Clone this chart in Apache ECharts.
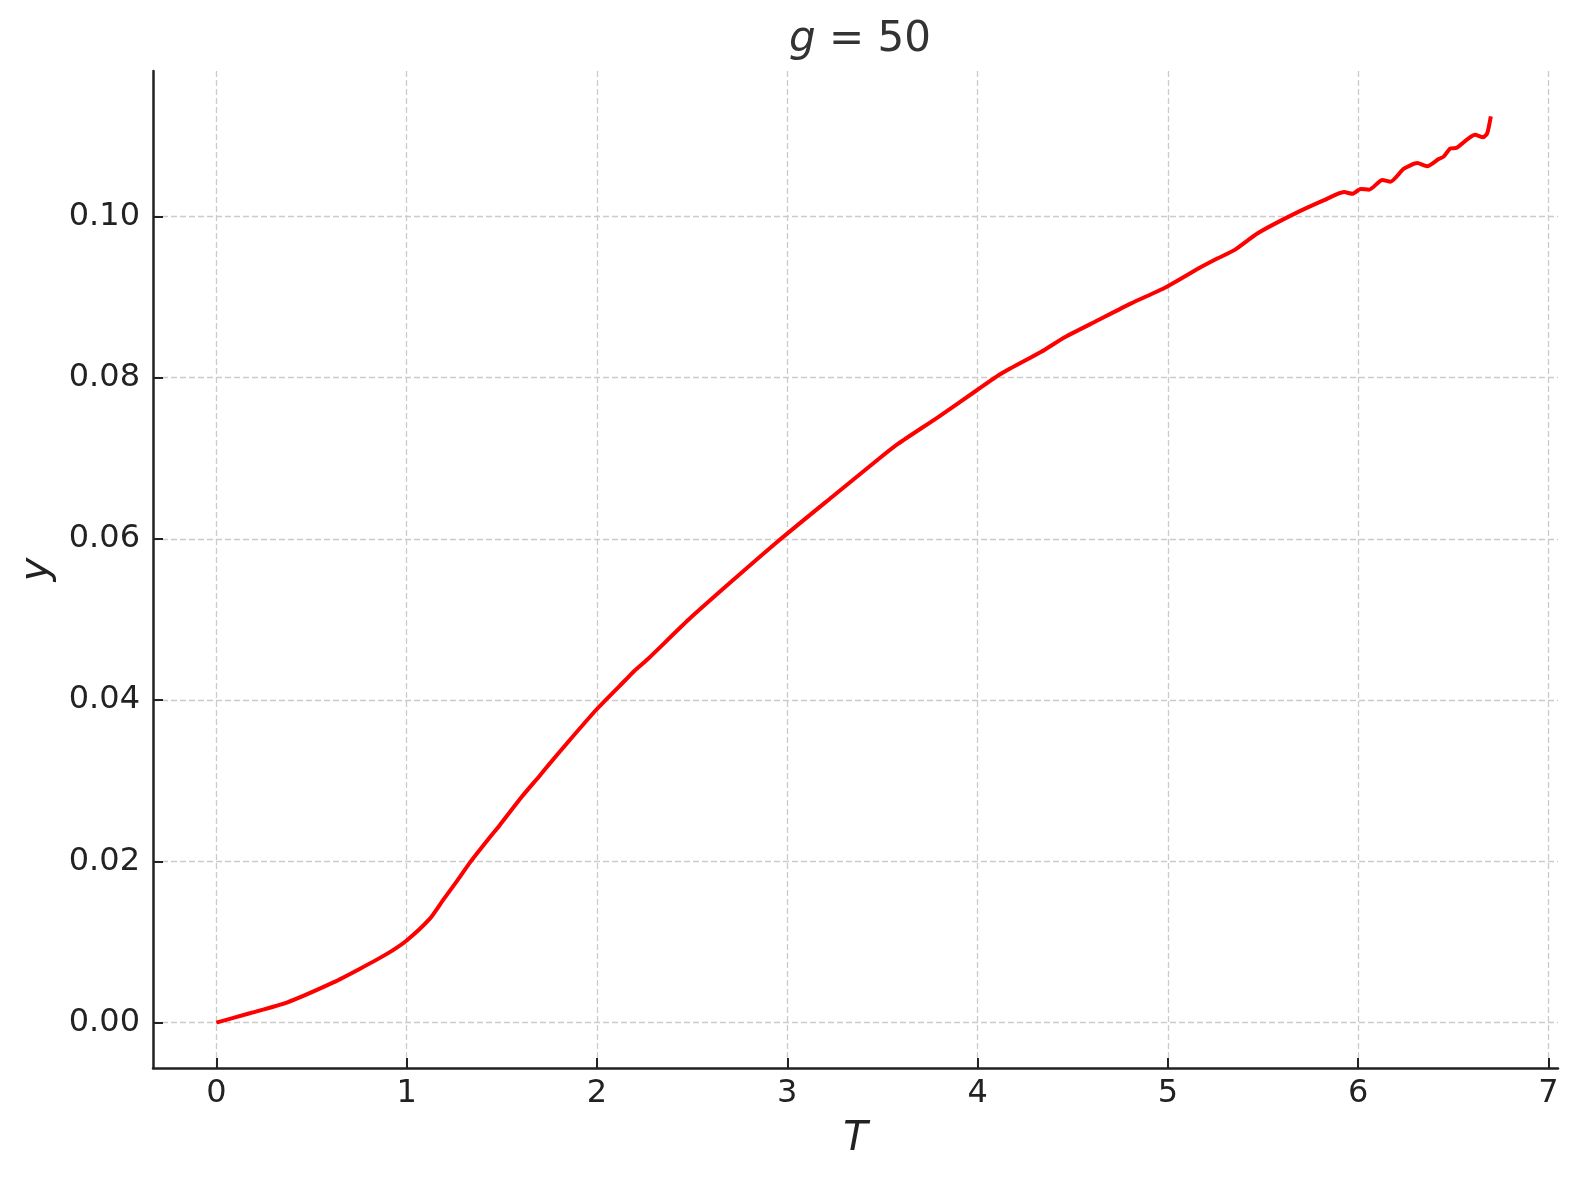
<!DOCTYPE html>
<html>
<head>
<meta charset="utf-8">
<script src="https://cdn.jsdelivr.net/npm/echarts@6/dist/echarts.min.js"></script>
<style>
  html, body { margin: 0; padding: 0; background: #fff; }
  #chart { width: 1578px; height: 1180px; }
</style>
</head>
<body>
<div id="chart"></div>
<script>
const tValues = [0, 0.18, 0.37, 0.615, 0.755, 0.894, 1.0, 1.122, 1.191, 1.262, 1.337, 1.434, 1.486,
  1.608, 1.698, 1.747, 1.855, 2.0, 2.15, 2.2, 2.263, 2.482, 2.711, 2.956, 3.235, 3.48, 3.583,
  3.793, 3.994, 4.125, 4.335, 4.458, 4.632, 4.807, 4.99, 5.174, 5.262, 5.349, 5.472, 5.664, 5.821,
  5.926, 5.97, 6.013, 6.057, 6.127, 6.17, 6.24, 6.31, 6.362, 6.423, 6.449, 6.483, 6.518, 6.614,
  6.657, 6.678, 6.697];
const yValues = [0, 0.0012, 0.0025, 0.0050, 0.0067, 0.0085, 0.0102, 0.0129, 0.0152, 0.0175, 0.0200,
  0.0229, 0.0244, 0.0281, 0.0306, 0.0320, 0.0350, 0.0389, 0.0425, 0.0437, 0.0450, 0.0500, 0.0548,
  0.0598, 0.0652, 0.0699, 0.0718, 0.0751, 0.0784, 0.0805, 0.0832, 0.0850, 0.0871, 0.0892, 0.0912,
  0.0937, 0.0948, 0.0958, 0.0979, 0.1003, 0.1020, 0.1030, 0.1028, 0.1034, 0.1033, 0.1045, 0.1043,
  0.1059, 0.1066, 0.1062, 0.1071, 0.1074, 0.1084, 0.1085, 0.1101, 0.1098, 0.1103, 0.1124];

const xTicks = [0, 1, 2, 3, 4, 5, 6, 7];
const yTicks = [0, 0.02, 0.04, 0.06, 0.08, 0.10];

const chart = echarts.init(document.getElementById('chart'));

const axisColor = '#222222';
const font = 'DejaVu Sans';

const splitLine = {
    show: true,
    lineStyle: { color: '#cbcbcb', width: 1.3, type: [6, 3] }
};

const option = {
    backgroundColor: '#ffffff',
    animation: false,
    title: {
        text: '{i|g}{n| = 50}',
        left: 855,
        textAlign: 'center',
        top: 14,
        textStyle: {
            rich: {
                i: { fontFamily: font, fontStyle: 'italic', fontWeight: 'normal', fontSize: 42, color: '#333333' },
                n: { fontFamily: font, fontWeight: 'normal', fontSize: 42, color: '#333333' }
            }
        }
    },
    grid: {
        left: 153,
        right: 20,
        top: 71,
        bottom: 112,
        outerBoundsMode: 'none'
    },
    xAxis: {
        type: 'value',
        min: -0.333,
        max: 7.05,
        name: 'T',
        nameLocation: 'middle',
        nameGap: 52,
        nameTextStyle: { fontFamily: font, fontStyle: 'italic', fontSize: 40, color: axisColor },
        axisLine: { onZero: false, lineStyle: { color: axisColor, width: 2.5 } },
        axisTick: { inside: true, length: 10, customValues: xTicks, lineStyle: { color: axisColor, width: 2 } },
        axisLabel: {
            customValues: xTicks,
            margin: 10,
            fontFamily: font,
            fontSize: 32,
            color: axisColor
        },
        splitLine: splitLine
    },
    yAxis: {
        type: 'value',
        min: -0.00562,
        max: 0.11802,
        name: 'y',
        nameLocation: 'middle',
        nameGap: 93,
        nameRotate: 90,
        nameTextStyle: { fontFamily: font, fontStyle: 'italic', fontSize: 40, color: axisColor },
        axisLine: { show: true, onZero: false, lineStyle: { color: axisColor, width: 2.5 } },
        axisTick: { show: true, inside: true, length: 10, customValues: yTicks, lineStyle: { color: axisColor, width: 2 } },
        axisLabel: {
            customValues: yTicks,
            margin: 13,
            fontFamily: font,
            fontSize: 32,
            color: axisColor,
            formatter: v => v.toFixed(2)
        },
        splitLine: splitLine
    },
    series: [{
        type: 'line',
        data: tValues.map((t, i) => [t, yValues[i]]),
        showSymbol: false,
        smooth: 0.2,
        lineStyle: { color: '#ff0000', width: 4 }
    }]
};

chart.setOption(option);
</script>
</body>
</html>
